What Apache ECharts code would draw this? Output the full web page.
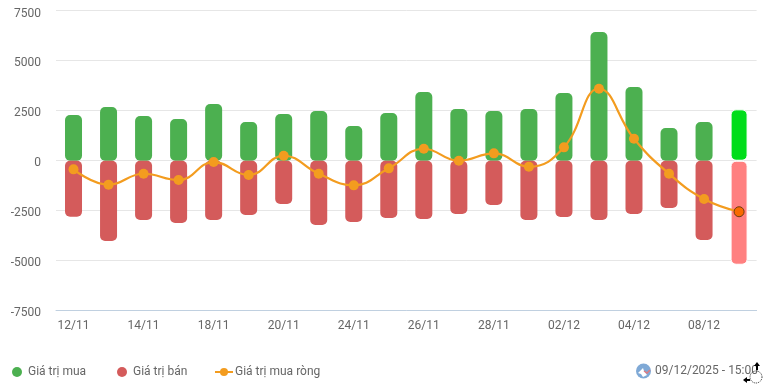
<!DOCTYPE html>
<html><head><meta charset="utf-8">
<style>html,body{margin:0;padding:0;background:#fff}#c{width:764px;height:384px}</style>
<script src="https://cdn.jsdelivr.net/npm/echarts@6/dist/echarts.min.js"></script>
</head><body><div id="c"></div>
<script>
const categories=['12/11','13/11','14/11','17/11','18/11','19/11','20/11','21/11','24/11','25/11','26/11','27/11','28/11','01/12','02/12','03/12','04/12','05/12','08/12','09/12'];
const buyValues=[2285,2685,2235,2085,2835,1935,2335,2485,1735,2385,3435,2585,2485,2585,3385,6435,3685,1635,1935,2570];
const sellValues=[-2800,-4015,-2965,-3115,-2965,-2715,-2165,-3215,-3065,-2865,-2915,-2665,-2215,-2965,-2815,-2965,-2665,-2365,-3965,-5200];
const netValues=[-430,-1200,-650,-965,-65,-715,250,-650,-1230,-380,600,0,370,-300,670,3600,1100,-650,-1915,-2550];
const stampText='09/12/2025 - 15:00';
const GREEN='#4CB050',RED='#D45B5B',ORANGE='#F39C1F';
const last=categories.length-1;
const font='Roboto';
const lbl={fontFamily:font,fontSize:12,color:'#666666'};
function bars(vals,hi){
  return vals.map((v,i)=>i===last?{value:v,itemStyle:{color:hi,borderColor:'#fff',borderWidth:1,borderRadius:5}}:v);
}
const chart=echarts.init(document.getElementById('c'),null,{renderer:'canvas'});
const base={itemHeight:10,padding:0,selectedMode:false};
const circleText=Object.assign({},lbl,{padding:[0,0,0,1]});
const lineText=Object.assign({},lbl,{padding:[0,0,0,-3]});
chart.setOption({
  animation:false,
  backgroundColor:'#fff',
  grid:{left:56,right:7.4,top:10.74,height:300},
  legend:[
    Object.assign({data:[{name:'Giá trị mua',icon:'circle'}],left:12,top:366,itemWidth:10,textStyle:circleText},base),
    Object.assign({data:[{name:'Giá trị bán',icon:'circle'}],left:117,top:366,itemWidth:10,textStyle:circleText},base),
    Object.assign({data:['Giá trị mua ròng'],left:214,top:366,itemWidth:18,textStyle:lineText},base)
  ],
  xAxis:{type:'category',data:categories,
    axisLine:{onZero:false,lineStyle:{color:'#C0D0E0',width:1}},axisTick:{show:false},
    axisLabel:Object.assign({},lbl,{interval:1,margin:9})},
  yAxis:{type:'value',min:-7500,max:7500,interval:2500,
    axisLine:{show:false},axisTick:{show:false},
    splitLine:{lineStyle:{color:'#E6E6E6',width:1}},
    axisLabel:Object.assign({},lbl,{margin:15,padding:[4,0,0,0],
      formatter:v=>v===7500?'{t|7500}':String(v),
      rich:{t:{fontFamily:font,fontSize:12,color:'#666666',padding:[2,0,0,0]}}})},
  series:[
    {name:'Giá trị mua',type:'bar',data:bars(buyValues,'#00DD1A'),barWidth:17,barGap:'-100%',
     itemStyle:{color:GREEN,borderRadius:5}},
    {name:'Giá trị bán',type:'bar',data:bars(sellValues,'#FF8080'),barWidth:17,barGap:'-100%',
     itemStyle:{color:RED,borderRadius:5}},
    {name:'Giá trị mua ròng',type:'line',smooth:0.45,
     data:netValues.map((v,i)=>i===last?{value:v,itemStyle:{color:'#F96A00',borderColor:'#6b3a10',borderWidth:1}}:v),
     symbol:'circle',symbolSize:10,z:5,
     lineStyle:{color:ORANGE,width:2.2},itemStyle:{color:ORANGE}}
  ],
  graphic:[
    {type:'circle',z:10,shape:{cx:643.5,cy:371,r:7.5},style:{fill:'#7FA9D6'}},
    {type:'polygon',z:11,shape:{points:[[638,373],[643,368],[644,371],[647,375],[643,377],[641,374]]},style:{fill:'#ffffff'}},
    {type:'polyline',z:11,shape:{points:[[644,371],[647,373],[650,370]]},style:{stroke:'#E07A80',lineWidth:1.5,fill:null}},
    {type:'text',z:10,style:{x:655,y:371,text:stampText,fontFamily:font,fontSize:12,fill:'#666666',verticalAlign:'middle',align:'left'}},
    {type:'polygon',z:12,shape:{points:[[757,362],[754,366],[760,366]]},style:{fill:'#000'}},
    {type:'rect',z:12,shape:{x:756,y:366,width:2,height:4},style:{fill:'#000'}},
    {type:'polygon',z:12,shape:{points:[[743,380],[747,377],[747,383]]},style:{fill:'#000'}},
    {type:'rect',z:12,shape:{x:747,y:379,width:3,height:2},style:{fill:'#000'}},
    {type:'arc',z:12,shape:{cx:756,cy:377,r:6,startAngle:0,endAngle:6.28},style:{stroke:'#222',lineWidth:1,lineDash:[1,1],fill:null}}
  ]
});
</script></body></html>
